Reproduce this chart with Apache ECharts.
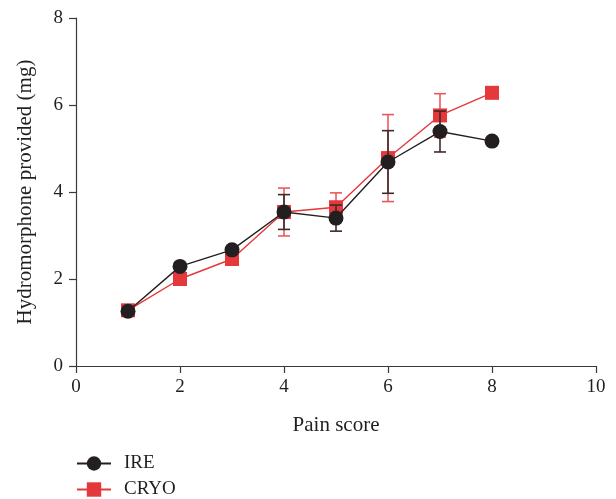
<!DOCTYPE html>
<html>
<head>
<meta charset="utf-8">
<script src="https://cdn.jsdelivr.net/npm/echarts@6/dist/echarts.min.js"></script>
<style>html,body{margin:0;padding:0;background:#fff}#c{width:616px;height:499px}</style>
</head>
<body>
<div id="c"></div>
<script>
var painScores = [1, 2, 3, 4, 5, 6, 7, 8];
var ireValues = [1.26, 2.29, 2.67, 3.54, 3.40, 4.69, 5.39, 5.17];
var ireErrors = [0, 0, 0, 0.40, 0.30, 0.72, 0.47, 0];
var cryoValues = [1.28, 2.00, 2.46, 3.54, 3.65, 4.78, 5.76, 6.28];
var cryoErrors = [0, 0, 0, 0.55, 0.33, 1.00, 0.50, 0];
var xTicks = [0, 2, 4, 6, 8, 10];
var yTicks = [0, 2, 4, 6, 8];

var FONT = '"Liberation Serif", "DejaVu Serif", serif';
var FS = 19;
var FT = 21;
var BLACK = '#231f20';
var RED = '#e5383b';

function pairs(vals) { return painScores.map(function (x, i) { return [x, vals[i]]; }); }
function errData(vals, errs) {
  var out = [];
  painScores.forEach(function (x, i) { if (errs[i] > 0) out.push([x, vals[i] - errs[i], vals[i] + errs[i]]); });
  return out;
}
function errSeries(vals, errs, color, z) {
  return {
    type: 'custom', z: z, silent: true,
    data: errData(vals, errs),
    renderItem: function (params, api) {
      var x = api.value(0);
      var lo = api.coord([x, api.value(1)]);
      var hi = api.coord([x, api.value(2)]);
      var w = 6;
      var st = { stroke: color, lineWidth: 1.6 };
      return { type: 'group', children: [
        { type: 'line', shape: { x1: lo[0], y1: lo[1], x2: hi[0], y2: hi[1] }, style: st },
        { type: 'line', shape: { x1: lo[0] - w, y1: lo[1], x2: lo[0] + w, y2: lo[1] }, style: st },
        { type: 'line', shape: { x1: hi[0] - w, y1: hi[1], x2: hi[0] + w, y2: hi[1] }, style: st }
      ]};
    }
  };
}

var chart = echarts.init(document.getElementById('c'), null, { renderer: 'canvas' });
chart.setOption({
  animation: false,
  backgroundColor: '#fff',
  textStyle: { fontFamily: FONT },
  grid: { left: 76, right: 20, top: 18, bottom: 133, containLabel: false },
  legend: {
    orient: 'vertical', left: 76, top: 454, height: 60, padding: 0,
    itemWidth: 34, itemHeight: 18, itemGap: 7,
    data: ['IRE', 'CRYO'],
    textStyle: { fontFamily: FONT, fontSize: FS, lineHeight: 18, color: BLACK, padding: [0, 0, 0, 8] }
  },
  xAxis: {
    type: 'value', min: 0, max: 10, interval: 2,
    name: 'Pain score', nameLocation: 'middle', nameGap: 49,
    nameTextStyle: { fontFamily: FONT, fontSize: FT, color: BLACK },
    axisLine: { lineStyle: { color: '#3a3a3a', width: 1.2 } },
    axisTick: { show: true, length: 7, lineStyle: { color: '#3a3a3a', width: 1.2 } },
    axisLabel: { fontFamily: FONT, fontSize: FS, color: BLACK, margin: 12 },
    splitLine: { show: false }
  },
  yAxis: {
    type: 'value', min: 0, max: 8, interval: 2,
    name: 'Hydromorphone provided (mg)', nameLocation: 'middle', nameGap: 40,
    nameTextStyle: { fontFamily: FONT, fontSize: FT, color: BLACK },
    axisLine: { show: true, lineStyle: { color: '#3a3a3a', width: 1.2 } },
    axisTick: { show: true, length: 7, lineStyle: { color: '#3a3a3a', width: 1.2 } },
    axisLabel: { fontFamily: FONT, fontSize: FS, color: BLACK, margin: 13 },
    splitLine: { show: false }
  },
  series: [
    errSeries(cryoValues, cryoErrors, '#ea5a5c', 2),
    {
      name: 'CRYO', type: 'line', z: 3, data: pairs(cryoValues),
      symbol: 'rect', symbolSize: 14,
      lineStyle: { color: RED, width: 1.4 },
      itemStyle: { color: RED }
    },
    errSeries(ireValues, ireErrors, '#3e2a2a', 4),
    {
      name: 'IRE', type: 'line', z: 5, data: pairs(ireValues),
      symbol: 'circle', symbolSize: 15,
      lineStyle: { color: BLACK, width: 1.4 },
      itemStyle: { color: BLACK }
    }
  ]
});
</script>
</body>
</html>
